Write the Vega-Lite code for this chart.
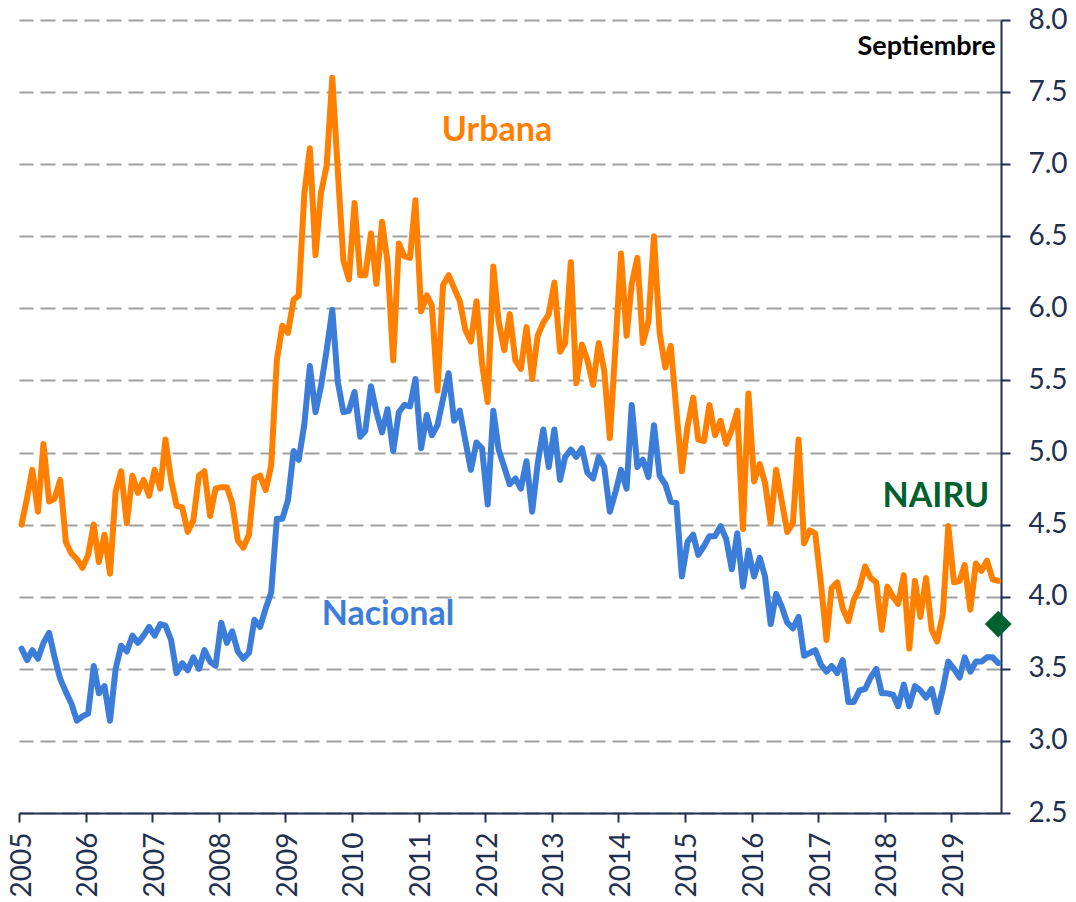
{
  "$schema": "https://vega.github.io/schema/vega-lite/v6.json",
  "width": 982,
  "height": 793,
  "autosize": {"type": "none"},
  "padding": {"left": 19, "top": 20, "right": 75, "bottom": 89},
  "background": "white",
  "config": {
    "view": {"stroke": null},
    "font": "Lato",
    "axis": {"labelFont": "Lato", "labelColor": "#1F2F4F", "labelFontSize": 28, "labelFontWeight": "normal"}
  },
  "datasets": {
    "tasas": [
      {"fecha":"2005-01-15","urbana":4.50,"nacional":3.64},
      {"fecha":"2005-02-15","urbana":4.69,"nacional":3.56},
      {"fecha":"2005-03-15","urbana":4.88,"nacional":3.63},
      {"fecha":"2005-04-15","urbana":4.59,"nacional":3.57},
      {"fecha":"2005-05-15","urbana":5.06,"nacional":3.68},
      {"fecha":"2005-06-15","urbana":4.66,"nacional":3.75},
      {"fecha":"2005-07-15","urbana":4.68,"nacional":3.58},
      {"fecha":"2005-08-15","urbana":4.81,"nacional":3.43},
      {"fecha":"2005-09-15","urbana":4.38,"nacional":3.34},
      {"fecha":"2005-10-15","urbana":4.30,"nacional":3.26},
      {"fecha":"2005-11-15","urbana":4.26,"nacional":3.14},
      {"fecha":"2005-12-15","urbana":4.20,"nacional":3.17},
      {"fecha":"2006-01-15","urbana":4.29,"nacional":3.19},
      {"fecha":"2006-02-15","urbana":4.50,"nacional":3.52},
      {"fecha":"2006-03-15","urbana":4.24,"nacional":3.33},
      {"fecha":"2006-04-15","urbana":4.43,"nacional":3.38},
      {"fecha":"2006-05-15","urbana":4.16,"nacional":3.14},
      {"fecha":"2006-06-15","urbana":4.73,"nacional":3.50},
      {"fecha":"2006-07-15","urbana":4.87,"nacional":3.66},
      {"fecha":"2006-08-15","urbana":4.51,"nacional":3.62},
      {"fecha":"2006-09-15","urbana":4.84,"nacional":3.73},
      {"fecha":"2006-10-15","urbana":4.72,"nacional":3.68},
      {"fecha":"2006-11-15","urbana":4.81,"nacional":3.73},
      {"fecha":"2006-12-15","urbana":4.70,"nacional":3.79},
      {"fecha":"2007-01-15","urbana":4.88,"nacional":3.73},
      {"fecha":"2007-02-15","urbana":4.75,"nacional":3.81},
      {"fecha":"2007-03-15","urbana":5.09,"nacional":3.80},
      {"fecha":"2007-04-15","urbana":4.81,"nacional":3.70},
      {"fecha":"2007-05-15","urbana":4.63,"nacional":3.47},
      {"fecha":"2007-06-15","urbana":4.62,"nacional":3.54},
      {"fecha":"2007-07-15","urbana":4.45,"nacional":3.49},
      {"fecha":"2007-08-15","urbana":4.53,"nacional":3.58},
      {"fecha":"2007-09-15","urbana":4.84,"nacional":3.50},
      {"fecha":"2007-10-15","urbana":4.87,"nacional":3.63},
      {"fecha":"2007-11-15","urbana":4.56,"nacional":3.55},
      {"fecha":"2007-12-15","urbana":4.75,"nacional":3.52},
      {"fecha":"2008-01-15","urbana":4.76,"nacional":3.82},
      {"fecha":"2008-02-15","urbana":4.76,"nacional":3.68},
      {"fecha":"2008-03-15","urbana":4.65,"nacional":3.76},
      {"fecha":"2008-04-15","urbana":4.39,"nacional":3.62},
      {"fecha":"2008-05-15","urbana":4.34,"nacional":3.57},
      {"fecha":"2008-06-15","urbana":4.43,"nacional":3.61},
      {"fecha":"2008-07-15","urbana":4.82,"nacional":3.84},
      {"fecha":"2008-08-15","urbana":4.84,"nacional":3.79},
      {"fecha":"2008-09-15","urbana":4.74,"nacional":3.92},
      {"fecha":"2008-10-15","urbana":4.91,"nacional":4.03},
      {"fecha":"2008-11-15","urbana":5.64,"nacional":4.54},
      {"fecha":"2008-12-15","urbana":5.88,"nacional":4.54},
      {"fecha":"2009-01-15","urbana":5.83,"nacional":4.67},
      {"fecha":"2009-02-15","urbana":6.06,"nacional":5.01},
      {"fecha":"2009-03-15","urbana":6.09,"nacional":4.95},
      {"fecha":"2009-04-15","urbana":6.80,"nacional":5.20},
      {"fecha":"2009-05-15","urbana":7.11,"nacional":5.60},
      {"fecha":"2009-06-15","urbana":6.37,"nacional":5.28},
      {"fecha":"2009-07-15","urbana":6.80,"nacional":5.46},
      {"fecha":"2009-08-15","urbana":6.99,"nacional":5.71},
      {"fecha":"2009-09-15","urbana":7.60,"nacional":5.99},
      {"fecha":"2009-10-15","urbana":6.96,"nacional":5.49},
      {"fecha":"2009-11-15","urbana":6.33,"nacional":5.28},
      {"fecha":"2009-12-15","urbana":6.20,"nacional":5.29},
      {"fecha":"2010-01-15","urbana":6.73,"nacional":5.42},
      {"fecha":"2010-02-15","urbana":6.23,"nacional":5.11},
      {"fecha":"2010-03-15","urbana":6.23,"nacional":5.15},
      {"fecha":"2010-04-15","urbana":6.52,"nacional":5.46},
      {"fecha":"2010-05-15","urbana":6.17,"nacional":5.28},
      {"fecha":"2010-06-15","urbana":6.60,"nacional":5.14},
      {"fecha":"2010-07-15","urbana":6.32,"nacional":5.30},
      {"fecha":"2010-08-15","urbana":5.64,"nacional":5.01},
      {"fecha":"2010-09-15","urbana":6.45,"nacional":5.28},
      {"fecha":"2010-10-15","urbana":6.36,"nacional":5.33},
      {"fecha":"2010-11-15","urbana":6.35,"nacional":5.32},
      {"fecha":"2010-12-15","urbana":6.75,"nacional":5.51},
      {"fecha":"2011-01-15","urbana":5.98,"nacional":5.03},
      {"fecha":"2011-02-15","urbana":6.09,"nacional":5.26},
      {"fecha":"2011-03-15","urbana":6.02,"nacional":5.12},
      {"fecha":"2011-04-15","urbana":5.43,"nacional":5.19},
      {"fecha":"2011-05-15","urbana":6.16,"nacional":5.37},
      {"fecha":"2011-06-15","urbana":6.23,"nacional":5.55},
      {"fecha":"2011-07-15","urbana":6.14,"nacional":5.22},
      {"fecha":"2011-08-15","urbana":6.05,"nacional":5.29},
      {"fecha":"2011-09-15","urbana":5.85,"nacional":5.08},
      {"fecha":"2011-10-15","urbana":5.77,"nacional":4.88},
      {"fecha":"2011-11-15","urbana":6.05,"nacional":5.07},
      {"fecha":"2011-12-15","urbana":5.62,"nacional":5.03},
      {"fecha":"2012-01-15","urbana":5.35,"nacional":4.64},
      {"fecha":"2012-02-15","urbana":6.29,"nacional":5.29},
      {"fecha":"2012-03-15","urbana":5.91,"nacional":5.02},
      {"fecha":"2012-04-15","urbana":5.71,"nacional":4.90},
      {"fecha":"2012-05-15","urbana":5.96,"nacional":4.78},
      {"fecha":"2012-06-15","urbana":5.64,"nacional":4.82},
      {"fecha":"2012-07-15","urbana":5.58,"nacional":4.75},
      {"fecha":"2012-08-15","urbana":5.87,"nacional":4.94},
      {"fecha":"2012-09-15","urbana":5.51,"nacional":4.59},
      {"fecha":"2012-10-15","urbana":5.81,"nacional":4.92},
      {"fecha":"2012-11-15","urbana":5.90,"nacional":5.16},
      {"fecha":"2012-12-15","urbana":5.96,"nacional":4.90},
      {"fecha":"2013-01-15","urbana":6.18,"nacional":5.16},
      {"fecha":"2013-02-15","urbana":5.70,"nacional":4.81},
      {"fecha":"2013-03-15","urbana":5.76,"nacional":4.97},
      {"fecha":"2013-04-15","urbana":6.32,"nacional":5.02},
      {"fecha":"2013-05-15","urbana":5.48,"nacional":4.97},
      {"fecha":"2013-06-15","urbana":5.75,"nacional":5.03},
      {"fecha":"2013-07-15","urbana":5.64,"nacional":4.86},
      {"fecha":"2013-08-15","urbana":5.47,"nacional":4.82},
      {"fecha":"2013-09-15","urbana":5.76,"nacional":4.97},
      {"fecha":"2013-10-15","urbana":5.57,"nacional":4.90},
      {"fecha":"2013-11-15","urbana":5.10,"nacional":4.59},
      {"fecha":"2013-12-15","urbana":5.72,"nacional":4.72},
      {"fecha":"2014-01-15","urbana":6.38,"nacional":4.88},
      {"fecha":"2014-02-15","urbana":5.81,"nacional":4.75},
      {"fecha":"2014-03-15","urbana":6.17,"nacional":5.33},
      {"fecha":"2014-04-15","urbana":6.35,"nacional":4.90},
      {"fecha":"2014-05-15","urbana":5.76,"nacional":4.95},
      {"fecha":"2014-06-15","urbana":5.91,"nacional":4.83},
      {"fecha":"2014-07-15","urbana":6.50,"nacional":5.19},
      {"fecha":"2014-08-15","urbana":5.83,"nacional":4.84},
      {"fecha":"2014-09-15","urbana":5.59,"nacional":4.78},
      {"fecha":"2014-10-15","urbana":5.74,"nacional":4.66},
      {"fecha":"2014-11-15","urbana":5.29,"nacional":4.65},
      {"fecha":"2014-12-15","urbana":4.87,"nacional":4.14},
      {"fecha":"2015-01-15","urbana":5.18,"nacional":4.38},
      {"fecha":"2015-02-15","urbana":5.38,"nacional":4.43},
      {"fecha":"2015-03-15","urbana":5.09,"nacional":4.29},
      {"fecha":"2015-04-15","urbana":5.08,"nacional":4.35},
      {"fecha":"2015-05-15","urbana":5.33,"nacional":4.42},
      {"fecha":"2015-06-15","urbana":5.12,"nacional":4.42},
      {"fecha":"2015-07-15","urbana":5.22,"nacional":4.49},
      {"fecha":"2015-08-15","urbana":5.06,"nacional":4.40},
      {"fecha":"2015-09-15","urbana":5.16,"nacional":4.19},
      {"fecha":"2015-10-15","urbana":5.29,"nacional":4.44},
      {"fecha":"2015-11-15","urbana":4.47,"nacional":4.07},
      {"fecha":"2015-12-15","urbana":5.41,"nacional":4.32},
      {"fecha":"2016-01-15","urbana":4.80,"nacional":4.14},
      {"fecha":"2016-02-15","urbana":4.92,"nacional":4.27},
      {"fecha":"2016-03-15","urbana":4.79,"nacional":4.14},
      {"fecha":"2016-04-15","urbana":4.51,"nacional":3.81},
      {"fecha":"2016-05-15","urbana":4.88,"nacional":4.02},
      {"fecha":"2016-06-15","urbana":4.66,"nacional":3.93},
      {"fecha":"2016-07-15","urbana":4.45,"nacional":3.82},
      {"fecha":"2016-08-15","urbana":4.51,"nacional":3.78},
      {"fecha":"2016-09-15","urbana":5.09,"nacional":3.86},
      {"fecha":"2016-10-15","urbana":4.37,"nacional":3.59},
      {"fecha":"2016-11-15","urbana":4.46,"nacional":3.61},
      {"fecha":"2016-12-15","urbana":4.44,"nacional":3.63},
      {"fecha":"2017-01-15","urbana":4.10,"nacional":3.53},
      {"fecha":"2017-02-15","urbana":3.70,"nacional":3.48},
      {"fecha":"2017-03-15","urbana":4.06,"nacional":3.52},
      {"fecha":"2017-04-15","urbana":4.10,"nacional":3.47},
      {"fecha":"2017-05-15","urbana":3.92,"nacional":3.56},
      {"fecha":"2017-06-15","urbana":3.83,"nacional":3.27},
      {"fecha":"2017-07-15","urbana":3.98,"nacional":3.27},
      {"fecha":"2017-08-15","urbana":4.06,"nacional":3.35},
      {"fecha":"2017-09-15","urbana":4.21,"nacional":3.36},
      {"fecha":"2017-10-15","urbana":4.13,"nacional":3.44},
      {"fecha":"2017-11-15","urbana":4.10,"nacional":3.50},
      {"fecha":"2017-12-15","urbana":3.77,"nacional":3.33},
      {"fecha":"2018-01-15","urbana":4.07,"nacional":3.33},
      {"fecha":"2018-02-15","urbana":4.00,"nacional":3.32},
      {"fecha":"2018-03-15","urbana":3.95,"nacional":3.24},
      {"fecha":"2018-04-15","urbana":4.15,"nacional":3.39},
      {"fecha":"2018-05-15","urbana":3.64,"nacional":3.24},
      {"fecha":"2018-06-15","urbana":4.11,"nacional":3.38},
      {"fecha":"2018-07-15","urbana":3.86,"nacional":3.35},
      {"fecha":"2018-08-15","urbana":4.13,"nacional":3.30},
      {"fecha":"2018-09-15","urbana":3.77,"nacional":3.36},
      {"fecha":"2018-10-15","urbana":3.69,"nacional":3.20},
      {"fecha":"2018-11-15","urbana":3.88,"nacional":3.36},
      {"fecha":"2018-12-15","urbana":4.49,"nacional":3.55},
      {"fecha":"2019-01-15","urbana":4.10,"nacional":3.50},
      {"fecha":"2019-02-15","urbana":4.11,"nacional":3.44},
      {"fecha":"2019-03-15","urbana":4.22,"nacional":3.58},
      {"fecha":"2019-04-15","urbana":3.91,"nacional":3.48},
      {"fecha":"2019-05-15","urbana":4.23,"nacional":3.55},
      {"fecha":"2019-06-15","urbana":4.18,"nacional":3.55},
      {"fecha":"2019-07-15","urbana":4.25,"nacional":3.58},
      {"fecha":"2019-08-15","urbana":4.12,"nacional":3.58},
      {"fecha":"2019-09-15","urbana":4.11,"nacional":3.54}
    ]
  },
  "layer": [
    {
      "data": {"name": "tasas"},
      "mark": {"type": "line", "color": "#FF7F00", "strokeWidth": 6, "strokeJoin": "round", "strokeCap": "round"},
      "encoding": {
        "x": {
          "field": "fecha", "type": "temporal",
          "scale": {"type": "utc", "domain": [{"year": 2005, "month": 1, "date": 1, "utc": true}, {"year": 2019, "month": 9, "date": 30, "utc": true}], "nice": false},
          "axis": {
            "orient": "bottom", "title": null, "format": "%Y", "formatType": "utc",
            "tickCount": {"interval": "year", "step": 1},
            "labelAngle": 270, "labelAlign": "right", "labelBaseline": "middle",
            "labelPadding": 10, "labelOffset": 3, "labelOverlap": false, "labelBound": false, "labelFlush": false,
            "tickSize": 9, "tickWidth": 2, "tickColor": "#1F2F4F",
            "domainColor": "#1F2F4F", "domainWidth": 2, "grid": false
          }
        },
        "y": {
          "field": "urbana", "type": "quantitative",
          "scale": {"domain": [2.5, 8.0], "nice": false, "zero": false},
          "axis": {
            "orient": "right", "title": null, "format": ".1f",
            "values": [2.5, 3.0, 3.5, 4.0, 4.5, 5.0, 5.5, 6.0, 6.5, 7.0, 7.5, 8.0],
            "labelPadding": 18, "labelBaseline": "middle",
            "tickSize": 9, "tickWidth": 2, "tickColor": "#1F2F4F",
            "domainColor": "#1F2F4F", "domainWidth": 2,
            "grid": true, "gridColor": "#A0A0A0", "gridWidth": 2, "gridDash": [15, 7]
          }
        }
      }
    },
    {
      "data": {"name": "tasas"},
      "mark": {"type": "line", "color": "#3C7DD9", "strokeWidth": 6, "strokeJoin": "round", "strokeCap": "round"},
      "encoding": {
        "x": {"field": "fecha", "type": "temporal"},
        "y": {"field": "nacional", "type": "quantitative"}
      }
    },
    {
      "data": {"values": [{"fecha": "2019-09-15", "nairu": 3.81}]},
      "mark": {"type": "point", "shape": "diamond", "filled": true, "color": "#006030", "size": 720, "opacity": 1},
      "encoding": {
        "x": {"field": "fecha", "type": "temporal"},
        "y": {"field": "nairu", "type": "quantitative"}
      }
    },
    {
      "data": {"values": [{"fecha": "2012-03-06", "valor": 7.23, "texto": "Urbana"}]},
      "mark": {"type": "text", "font": "Lato", "fontWeight": "bold", "fontSize": 34, "color": "#FF7F00", "align": "center", "baseline": "middle"},
      "encoding": {
        "x": {"field": "fecha", "type": "temporal"},
        "y": {"field": "valor", "type": "quantitative"},
        "text": {"field": "texto"}
      }
    },
    {
      "data": {"values": [{"fecha": "2010-07-17", "valor": 3.87, "texto": "Nacional"}]},
      "mark": {"type": "text", "font": "Lato", "fontWeight": "bold", "fontSize": 34, "color": "#3C7DD9", "align": "center", "baseline": "middle"},
      "encoding": {
        "x": {"field": "fecha", "type": "temporal"},
        "y": {"field": "valor", "type": "quantitative"},
        "text": {"field": "texto"}
      }
    },
    {
      "data": {"values": [{"fecha": "2018-10-08", "valor": 4.69, "texto": "NAIRU"}]},
      "mark": {"type": "text", "font": "Lato", "fontWeight": "bold", "fontSize": 34, "color": "#006030", "align": "center", "baseline": "middle"},
      "encoding": {
        "x": {"field": "fecha", "type": "temporal"},
        "y": {"field": "valor", "type": "quantitative"},
        "text": {"field": "texto"}
      }
    },
    {
      "data": {"values": [{"fecha": "2019-09-01", "valor": 7.81, "texto": "Septiembre"}]},
      "mark": {"type": "text", "font": "Lato", "fontWeight": "bold", "fontSize": 27, "color": "#000000", "align": "right", "baseline": "middle"},
      "encoding": {
        "x": {"field": "fecha", "type": "temporal"},
        "y": {"field": "valor", "type": "quantitative"},
        "text": {"field": "texto"}
      }
    }
  ]
}
